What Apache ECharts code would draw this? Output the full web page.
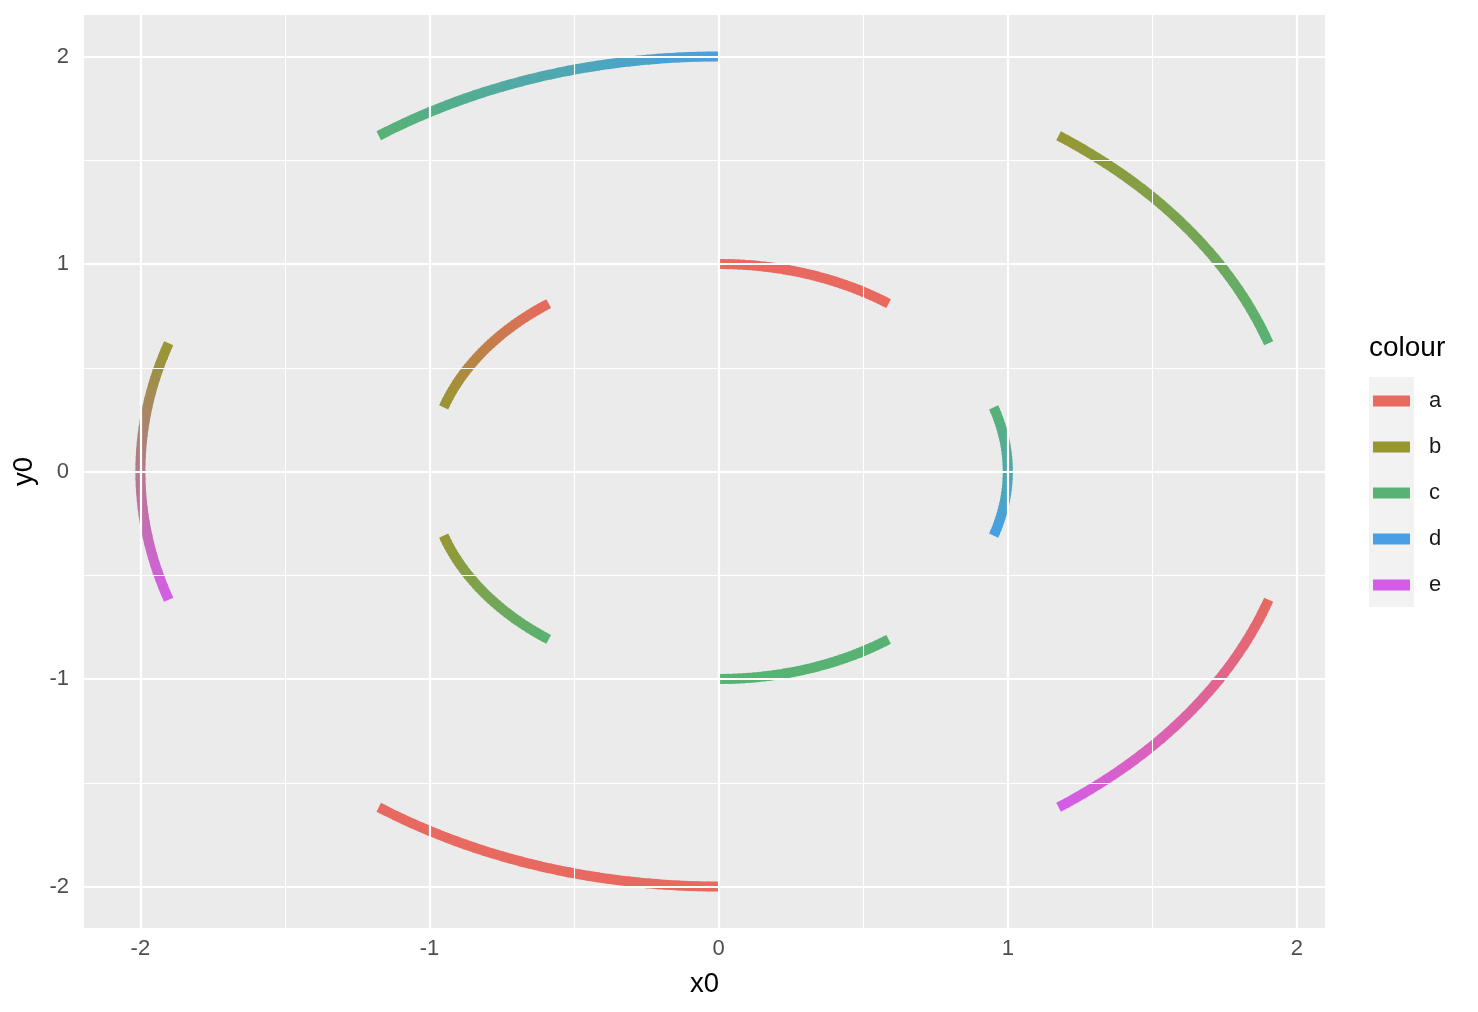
<!DOCTYPE html>
<html>
<head>
<meta charset="utf-8">
<script src="https://cdn.jsdelivr.net/npm/echarts@6/dist/echarts.min.js"></script>
<style>html,body{margin:0;padding:0;background:#fff}#chart{width:1478px;height:1012px}</style>
</head>
<body>
<div id="chart"></div>
<script>
// ---- data ----
const categories = ['a', 'b', 'c', 'd', 'e'];
const palette = ['#E8695F', '#979732', '#58B273', '#479FE6', '#D35DE8'];
const arcRadius = [1, 2, 1, 2, 1, 2, 1, 2, 1, 2];
const arcStartDeg = [0, 36, 72, 108, 144, 180, 216, 252, 288, 324];
const arcEndDeg = [36, 72, 108, 144, 180, 216, 252, 288, 324, 360];
const arcStartColour = ['a', 'b', 'c', 'a', 'c', 'a', 'c', 'e', 'b', 'c'];
const arcEndColour = ['a', 'c', 'd', 'e', 'c', 'a', 'b', 'b', 'a', 'd'];
const xTicks = [-2, -1, 0, 1, 2];
const yTicks = [-2, -1, 0, 1, 2];
const xMinor = [-1.5, -0.5, 0.5, 1.5];
const yMinor = [-1.5, -0.5, 0.5, 1.5];

function hexToRgb(h) {
  const n = parseInt(h.slice(1), 16);
  return [(n >> 16) & 255, (n >> 8) & 255, n & 255];
}
function mix(c0, c1, t) {
  const a = hexToRgb(c0), b = hexToRgb(c1);
  const r = a.map((v, i) => Math.round(v + (b[i] - v) * t));
  return 'rgb(' + r.join(',') + ')';
}
function colourOf(k) { return palette[categories.indexOf(k)]; }

const arcData = arcRadius.map((r, i) => [0, 0, r, arcStartDeg[i], arcEndDeg[i]]);

function renderArc(params, api) {
  const i = params.dataIndex;
  const r = api.value(2);
  const a0 = api.value(3) * Math.PI / 180;
  const a1 = api.value(4) * Math.PI / 180;
  const c0 = colourOf(arcStartColour[i]);
  const c1 = colourOf(arcEndColour[i]);
  const N = Math.max(2, Math.round(Math.abs(arcEndDeg[i] - arcStartDeg[i])));
  const pts = [];
  for (let k = 0; k <= N; k++) {
    const a = a0 + (a1 - a0) * k / N;
    pts.push(api.coord([r * Math.sin(a), r * Math.cos(a)]));
  }
  const children = [];
  const ext = 0.7;
  for (let k = 0; k < N; k++) {
    const p = pts[k], q = pts[k + 1];
    const dx = q[0] - p[0], dy = q[1] - p[1];
    const L = Math.hypot(dx, dy) || 1;
    const ux = dx / L, uy = dy / L;
    const e0 = k === 0 ? 0 : ext;
    const e1 = k === N - 1 ? 0 : ext;
    children.push({
      type: 'line',
      shape: { x1: p[0] - ux * e0, y1: p[1] - uy * e0, x2: q[0] + ux * e1, y2: q[1] + uy * e1 },
      style: { stroke: mix(c0, c1, (k + 0.5) / N), lineWidth: 10, lineCap: 'butt' }
    });
  }
  return { type: 'group', children: children };
}

const gridLines = []
  .concat(xTicks.map(v => ({ xAxis: v, lineStyle: { width: 2.2 } })))
  .concat(xMinor.map(v => ({ xAxis: v, lineStyle: { width: 1.1 } })))
  .concat(yTicks.map(v => ({ yAxis: v, lineStyle: { width: 2.2 } })))
  .concat(yMinor.map(v => ({ yAxis: v, lineStyle: { width: 1.1 } })));

const chart = echarts.init(document.getElementById('chart'), null, { renderer: 'canvas' });
const FONT = '"Liberation Sans", Arial, Helvetica, sans-serif';

const legendSeries = categories.map((c, i) => ({
  name: c, type: 'line', data: [], color: palette[i], showSymbol: false
}));

chart.setOption({
  animation: false,
  textStyle: { fontFamily: FONT },
  grid: {
    left: 84, top: 15, width: 1241, height: 913,
    show: true, backgroundColor: '#EBEBEB', borderWidth: 0
  },
  xAxis: {
    type: 'value', min: -2.195, max: 2.097,
    name: 'x0', nameLocation: 'middle', nameGap: 42,
    nameTextStyle: { fontSize: 27.5, color: '#000', fontFamily: FONT },
    axisLine: { show: false },
    splitLine: { show: false },
    axisTick: { show: true, length: 7, customValues: xTicks, lineStyle: { color: '#333', width: 1.8 } },
    axisLabel: { customValues: xTicks, fontSize: 22, color: '#4D4D4D', margin: 10, fontFamily: FONT }
  },
  yAxis: {
    type: 'value', min: -2.2, max: 2.2,
    name: 'y0', nameLocation: 'middle', nameGap: 40, nameRotate: 90,
    nameTextStyle: { fontSize: 27.5, color: '#000', fontFamily: FONT },
    axisLine: { show: false },
    splitLine: { show: false },
    axisTick: { show: true, length: 7, customValues: yTicks, lineStyle: { color: '#333', width: 1.8 } },
    axisLabel: { customValues: yTicks, fontSize: 22, color: '#4D4D4D', margin: 15, fontFamily: FONT }
  },
  legend: {
    orient: 'vertical', left: 1373, top: 388, padding: 0,
    data: categories, icon: 'rect', itemWidth: 37, itemHeight: 11, itemGap: 20,
    selectedMode: false,
    textStyle: { fontSize: 22, color: '#1a1a1a', padding: [0, 0, 0, 14], lineHeight: 26, fontFamily: FONT }
  },
  graphic: [
    { type: 'rect', left: 1369, top: 377, z: -1, shape: { width: 45, height: 230 }, style: { fill: '#F2F2F2' } },
    { type: 'text', left: 1369, top: 334, style: { text: 'colour', fontSize: 28, fill: '#000', fontFamily: FONT } }
  ],
  series: [
    {
      type: 'line', data: [], z: 1, silent: true,
      markLine: {
        silent: true, symbol: ['none', 'none'], label: { show: false },
        lineStyle: { color: '#FFFFFF', type: 'solid' },
        emphasis: { disabled: true },
        data: gridLines
      }
    },
    {
      type: 'custom', z: 3, silent: true,
      renderItem: renderArc,
      encode: { x: 0, y: 1 },
      data: arcData
    }
  ].concat(legendSeries)
});
</script>
</body>
</html>
